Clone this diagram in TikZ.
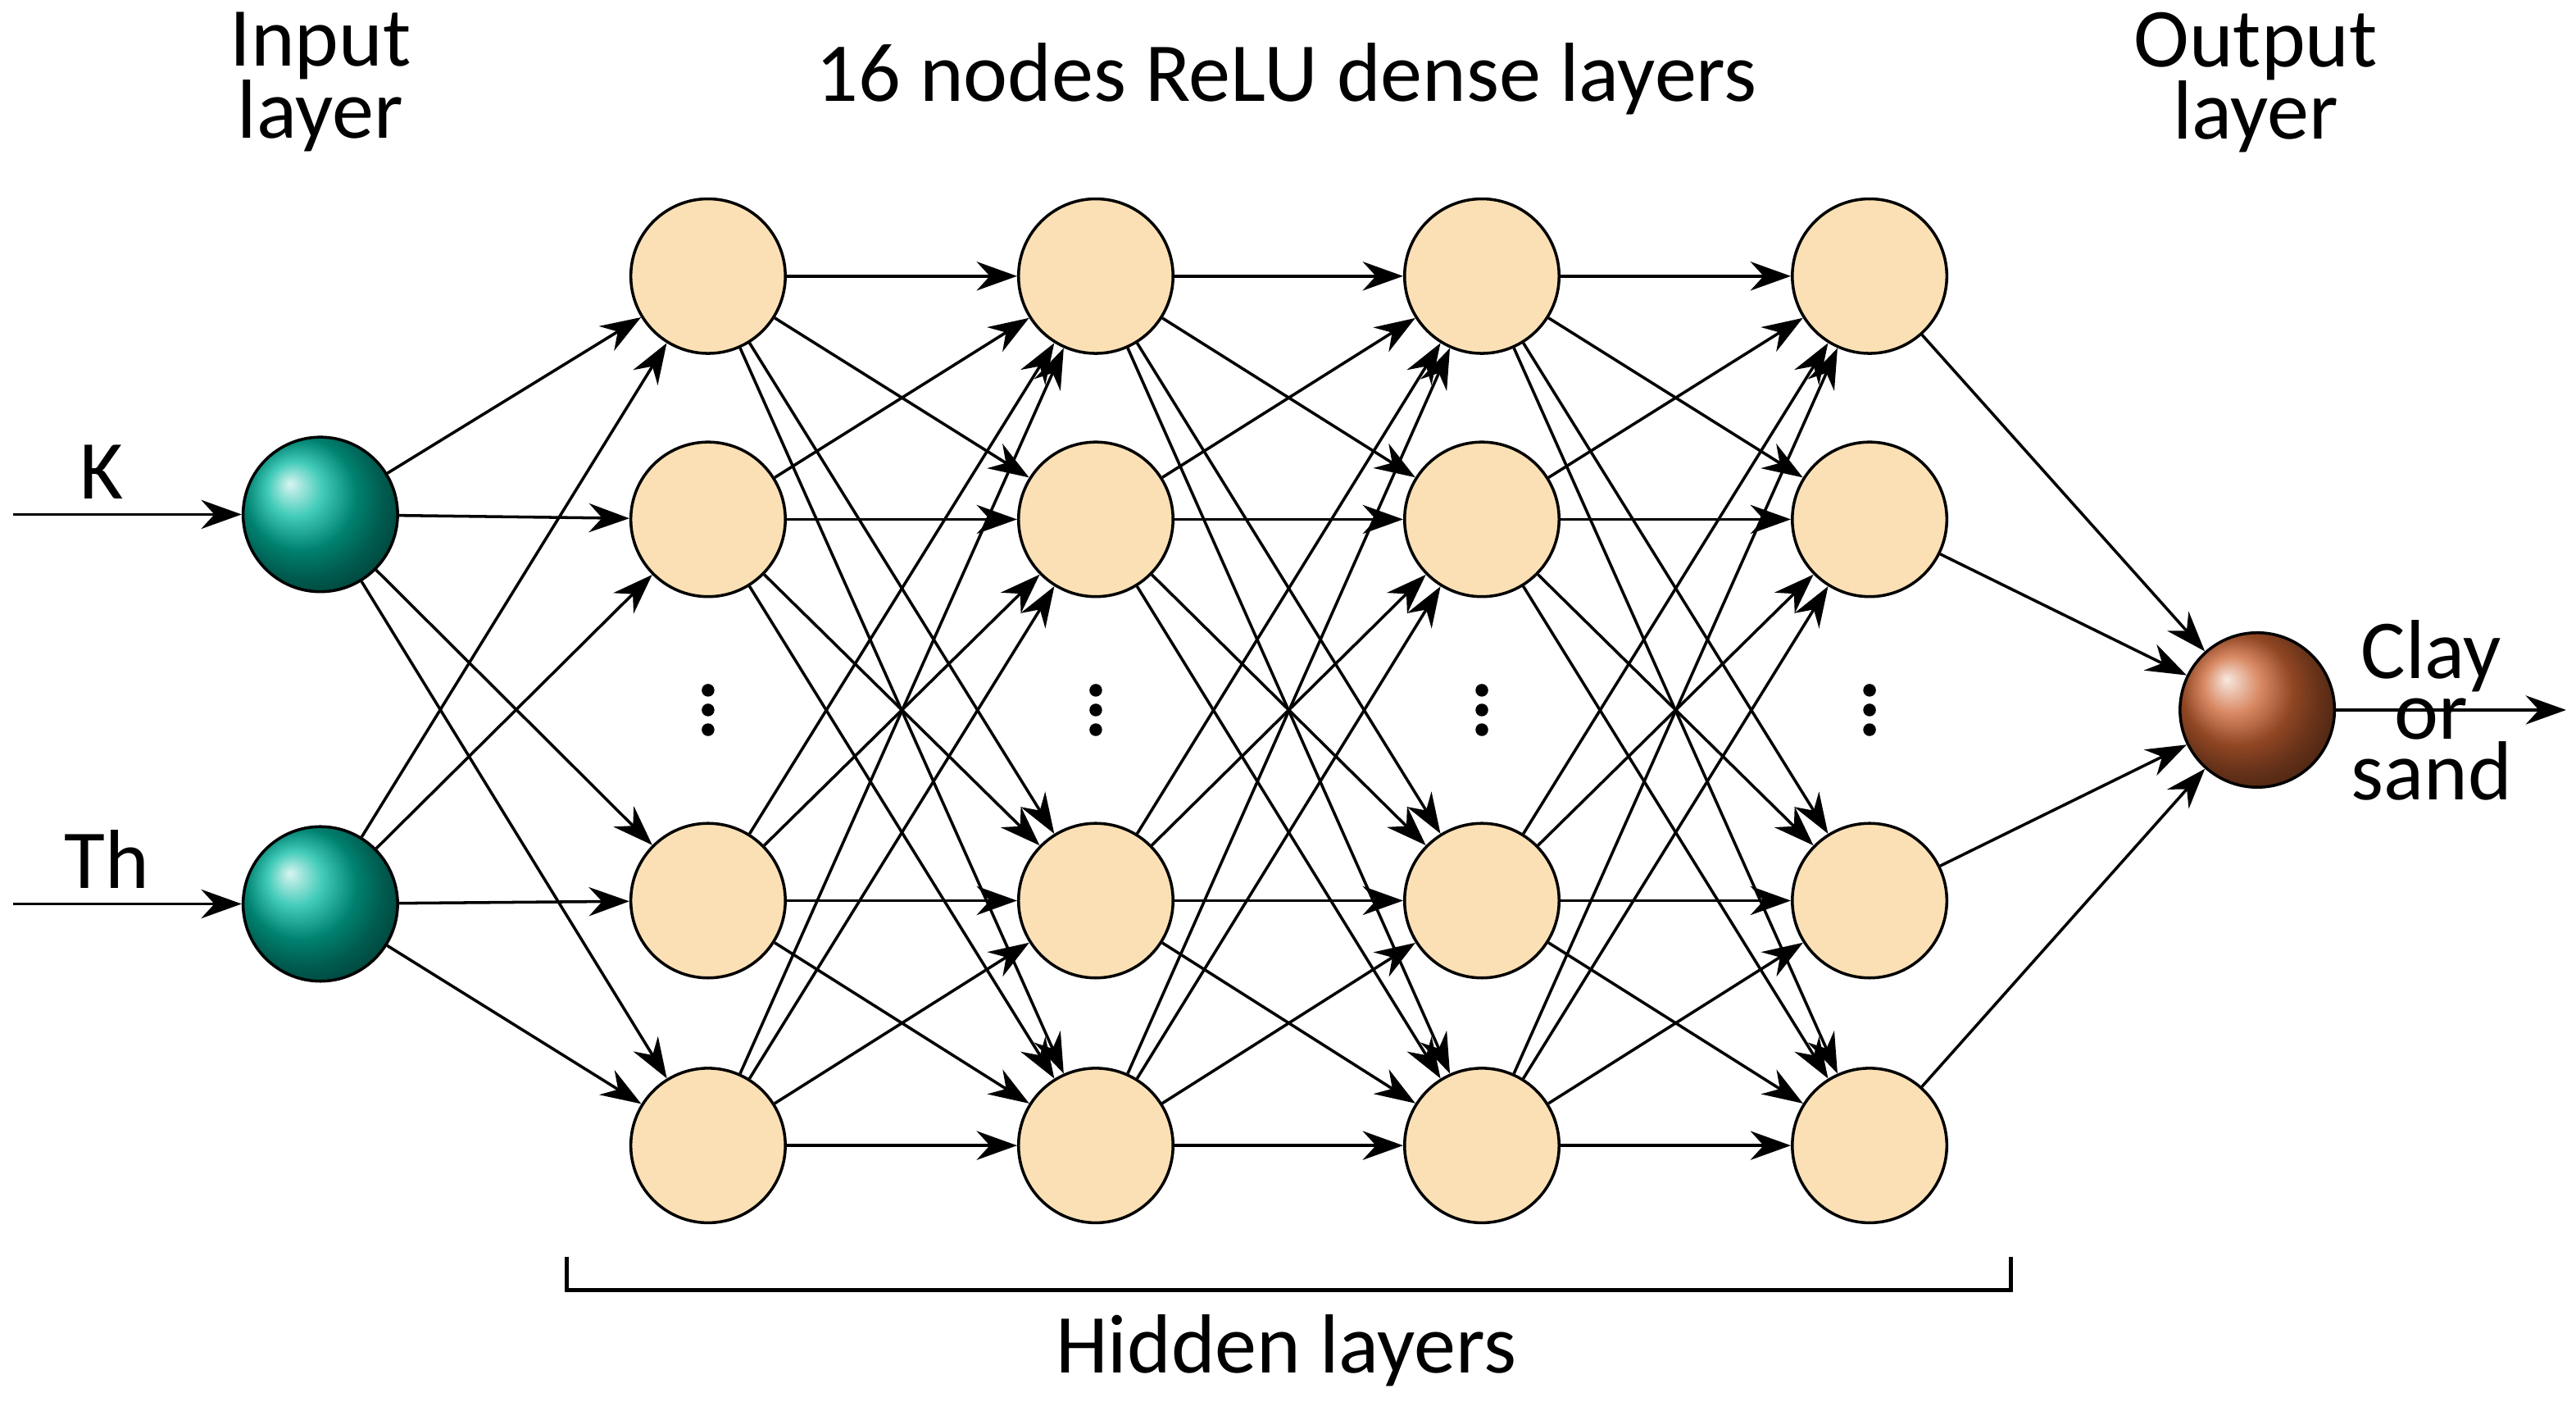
\documentclass[tikz,border=0pt]{standalone}
\usepackage{fontspec}
\setmainfont{Carlito}
\usetikzlibrary{arrows.meta}

\begin{document}
\begin{tikzpicture}[x=0.01cm,y=-0.01cm,
font=\fontsize{14.5}{15}\selectfont,
neuron/.style={draw,circle,minimum size=0.94cm,inner sep=0pt,line width=0.5pt},
inp/.style={neuron,ball color={rgb,255:red,0;green,185;blue,160},shading=ball},
hid/.style={neuron,fill={rgb,255:red,250;green,224;blue,180}},
outp/.style={neuron,ball color={rgb,255:red,205;green,100;blue,50}},
dot/.style={circle,fill,inner sep=0pt,minimum size=2.2pt},
conn/.style={-{Stealth[length=7pt,width=5pt]},line width=0.5pt}]
\useasboundingbox (0,0) rectangle (1568,853);

% input layer
\node (i1) [inp] at (195,313) {};
\node (i2) [inp] at (195,550) {};
\coordinate (k) at (8,313);
\coordinate (th) at (8,550);
\draw[conn] (k) -- (i1);
\draw[conn] (th) -- (i2);
\node (klab) at (62,287) {K};
\node (thlab) at (65,523) {Th};

% hidden layers
\foreach \c/\x in {1/431,2/667,3/902,4/1138} {
  \foreach \r/\y in {1/168,2/316,3/548,4/697}
    \node (h\c\r) [hid] at (\x,\y) {};
  \foreach \d/\y in {1/420,2/432,3/444}
    \node (dot\c\d) [dot] at (\x,\y) {};
}

% output layer
\node (o) [outp] at (1374,432) {};
\coordinate (out) at (1562,432);
\draw[conn] (o) -- (out);
\node (olab) [align=center,font=\fontsize{14.5}{10.5}\selectfont] at (1480,432) {Clay\\or\\sand};

% connections
\foreach \a in {1,2}
  \foreach \r in {1,...,4}
    \draw[conn] (i\a) -- (h1\r);
\foreach \c [evaluate=\c as \n using int(\c+1)] in {1,2,3}
  \foreach \a in {1,...,4}
    \foreach \b in {1,...,4}
      \draw[conn] (h\c\a) -- (h\n\b);
\foreach \r in {1,...,4}
  \draw[conn] (h4\r) -- (o);

% titles
\node (tin) [align=center,font=\fontsize{14.5}{12.5}\selectfont] at (195,50) {Input\\layer};
\node (thid) at (783,48) {16 nodes ReLU dense layers};
\node (tout) [align=center,font=\fontsize{14.5}{12.5}\selectfont] at (1373,50) {Output\\layer};

% bracket
\coordinate (bl) at (345,765);
\coordinate (br) at (1224,765);
\draw[line width=0.6pt] (bl) -- ++(0,20) -| (br);
\node (hlab) at (783,822) {Hidden layers};
\end{tikzpicture}
\end{document}
